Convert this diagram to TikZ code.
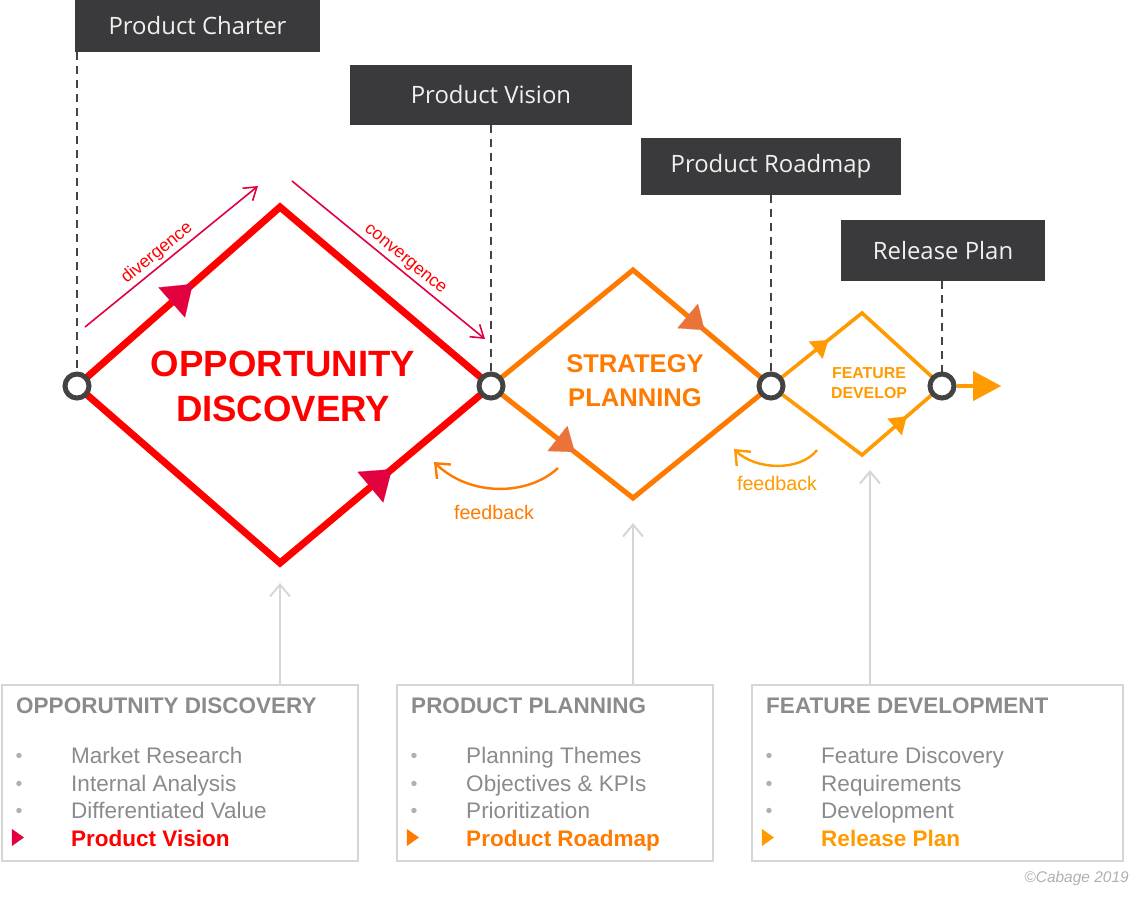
\documentclass[tikz,border=0pt]{standalone}
\usepackage{fontspec}
\setmainfont{Liberation Sans}
\newfontfamily\boxfont{Open Sans}
\usetikzlibrary{arrows.meta, decorations.markings, positioning}

\definecolor{oppred}{HTML}{FF0000}
\definecolor{tipred}{HTML}{E2003F}
\definecolor{planorange}{HTML}{FF7A00}
\definecolor{tiporange}{HTML}{EA733A}
\definecolor{featorange}{HTML}{FF9A00}
\definecolor{boxdark}{HTML}{3A3A3C}
\definecolor{milestonetext}{HTML}{F0F0F0}
\definecolor{hubgray}{HTML}{434343}
\definecolor{textgray}{HTML}{8B8B8F}
\definecolor{bulletgray}{HTML}{B0B0B0}
\definecolor{framegray}{HTML}{D6D6D6}

\begin{document}
\begin{tikzpicture}[x=0.025cm, y=-0.025cm,
    hub/.style={circle, draw=hubgray, fill=white, line width=0.125cm, minimum size=0.6cm, inner sep=0pt},
    milestone/.style={fill=boxdark, text=milestonetext, inner sep=0pt, font=\boxfont\fontsize{17}{20}\selectfont},
    guide/.style={hubgray, line width=0.05cm, dash pattern=on 0.2cm off 0.15cm},
    flowtip/.style n args={4}{postaction={decorate, decoration={markings, mark=at position #1 with {\arrow{Triangle[length=#3, width=#4, line width=0.1pt, color=#2, fill=#2]}}}}},
    hint/.style={line width=0.04cm, -{Straight Barb[length=0.3cm, width=0.4cm]}},
    feedback/.style={line width=0.06cm, -{Straight Barb[length=0.3cm, width=0.5cm]}},
    panel/.style={draw=framegray, line width=0.05cm, minimum height=4.4cm, inner sep=0pt},
    rise/.style={framegray, line width=0.05cm, -{Straight Barb[length=0.3cm, width=0.5cm]}},
    entry/.style={anchor=base west, inner sep=0pt, text=textgray, font=\fontsize{16}{19}\selectfont},
  ]
  \useasboundingbox (0,0) rectangle (1141,897);

  % hubs and corners
  \coordinate (p1) at (77,386);
  \coordinate (p2) at (491,386);
  \coordinate (p3) at (771,386);
  \coordinate (p4) at (942,386);
  \coordinate (t1) at (280,207); \coordinate (b1) at (280,563);
  \coordinate (t2) at (633,270); \coordinate (b2) at (633,498);
  \coordinate (t3) at (862,313); \coordinate (b3) at (862,455);

  % milestones
  \node[milestone, minimum width=6.125cm, minimum height=1.3cm] (charter) at (197.5,26) {Product Charter};
  \node[milestone, minimum width=7.05cm, minimum height=1.5cm] (vision) at (491,95) {Product Vision};
  \node[milestone, minimum width=6.5cm, minimum height=1.425cm] (roadmap) at (771,166.5) {Product Roadmap};
  \node[milestone, minimum width=5.1cm, minimum height=1.525cm] (release) at (943,250.5) {Release Plan};

  \draw[guide] (charter.south -| p1) -- (p1);
  \draw[guide] (vision.south -| p2) -- (p2);
  \draw[guide] (roadmap.south -| p3) -- (p3);
  \draw[guide] (release.south -| p4) -- (p4);

  % diamonds
  \draw[oppred, line width=0.175cm, line join=miter] (p1) -- (t1) -- (p2) -- (b1) -- cycle;
  \path[flowtip={0.57}{tipred}{0.7cm}{1.0cm}] (p1) -- (t1);
  \path[flowtip={0.53}{tipred}{0.7cm}{1.0cm}] (b1) -- (p2);
  \draw[planorange, line width=0.125cm, line join=miter] (p2) -- (t2) -- (p3) -- (b2) -- cycle;
  \path[flowtip={0.52}{tiporange}{0.55cm}{0.8cm}] (t2) -- (p3);
  \path[flowtip={0.59}{tiporange}{0.55cm}{0.8cm}] (p2) -- (b2);
  \draw[featorange, line width=0.09cm, line join=miter] (p3) -- (t3) -- (p4) -- (b3) -- cycle;
  \path[flowtip={0.63}{featorange}{0.4cm}{0.55cm}] (p3) -- (t3);
  \path[flowtip={0.56}{featorange}{0.4cm}{0.55cm}] (b3) -- (p4);

  \node[hub] (h1) at (p1) {};
  \node[hub] (h2) at (p2) {};
  \node[hub] (h3) at (p3) {};
  \node[hub] (h4) at (p4) {};
  \coordinate (out) at (1001,386);
  \draw[featorange, line width=0.12cm, -{Triangle[length=0.7cm, width=0.75cm, line width=0.1pt]}] (h4) -- (out);

  \node[text=oppred, align=center, font=\bfseries\fontsize{26}{32}\selectfont] (opp) at (283,386) {OPPORTUNITY\\DISCOVERY};
  \node[text=planorange, align=center, font=\bfseries\fontsize{18.2}{24}\selectfont] (plan) at (635,381) {STRATEGY\\PLANNING};
  \node[text=featorange, align=center, font=\bfseries\fontsize{11.3}{14}\selectfont] (feat) at (869,383) {FEATURE\\DEVELOP};

  % divergence / convergence
  \coordinate (dv1) at (85,327); \coordinate (dv2) at (258,186);
  \draw[tipred, hint] (dv1) -- node[sloped, above, pos=0.46, inner sep=2pt, text=oppred, font=\fontsize{12.5}{14}\selectfont] {divergence} (dv2);
  \coordinate (cv1) at (292,181); \coordinate (cv2) at (485,339);
  \draw[tipred, hint] (cv1) -- node[sloped, above, pos=0.55, inner sep=2pt, text=oppred, font=\fontsize{12.5}{14}\selectfont] {convergence} (cv2);

  % feedback loops
  \coordinate (fb1a) at (558,468); \coordinate (fb1b) at (434,462);
  \draw[planorange, feedback] (fb1a) .. controls (528,496) and (470,497) .. (fb1b);
  \node[text=planorange, font=\fontsize{14}{16}\selectfont] (fb1) at (494,512) {feedback};
  \coordinate (fb2a) at (817,450); \coordinate (fb2b) at (734,449);
  \draw[featorange, feedback] (fb2a) .. controls (800,472) and (755,470) .. (fb2b);
  \node[text=featorange, font=\fontsize{14}{16}\selectfont] (fb2) at (777,483) {feedback};

  % panels
  \node[panel, minimum width=8.9cm] (pan1) at (180,773) {};
  \node[panel, minimum width=7.9cm] (pan2) at (555,773) {};
  \node[panel, minimum width=9.275cm] (pan3) at (937.5,773) {};
  \coordinate (r1) at (280,583);
  \coordinate (r2) at (633,523);
  \coordinate (r3) at (870,470);
  \draw[rise] (pan1.north -| r1) -- (r1);
  \draw[rise] (pan2.north -| r2) -- (r2);
  \draw[rise] (pan3.north -| r3) -- (r3);

  \foreach \pan/\head/\itemA/\itemB/\itemC/\goal/\goalcol/\tipcol in {
      pan1/OPPORUTNITY DISCOVERY/Market Research/Internal Analysis/Differentiated Value/Product Vision/oppred/tipred,
      pan2/PRODUCT PLANNING/Planning Themes/Objectives \& KPIs/Prioritization/Product Roadmap/planorange/planorange,
      pan3/FEATURE DEVELOPMENT/Feature Discovery/Requirements/Development/Release Plan/featorange/featorange}{
    \node[entry, font=\bfseries\fontsize{16}{19}\selectfont] at ([shift={(15,30)}]\pan.north west) {\head};
    \node[entry] at ([shift={(70,80)}]\pan.north west) {\itemA};
    \node[entry] at ([shift={(70,108)}]\pan.north west) {\itemB};
    \node[entry] at ([shift={(70,135)}]\pan.north west) {\itemC};
    \node[entry, text=\goalcol, font=\bfseries\fontsize{16}{19}\selectfont] at ([shift={(70,163)}]\pan.north west) {\goal};
    \node[anchor=base, inner sep=0pt, text=bulletgray, font=\fontsize{14}{16}\selectfont] at ([shift={(18,79)}]\pan.north west) {•};
    \node[anchor=base, inner sep=0pt, text=bulletgray, font=\fontsize{14}{16}\selectfont] at ([shift={(18,107)}]\pan.north west) {•};
    \node[anchor=base, inner sep=0pt, text=bulletgray, font=\fontsize{14}{16}\selectfont] at ([shift={(18,134)}]\pan.north west) {•};
    \fill[\tipcol] ([shift={(11,145)}]\pan.north west) -- ++(12,8.5) -- ++(-12,8.5) -- cycle;
  }

  \node[anchor=base east, inner sep=0pt, text=bulletgray, font=\itshape\fontsize{11}{13}\selectfont] (copy) at (1129,882) {©Cabage 2019};
\end{tikzpicture}
\end{document}
